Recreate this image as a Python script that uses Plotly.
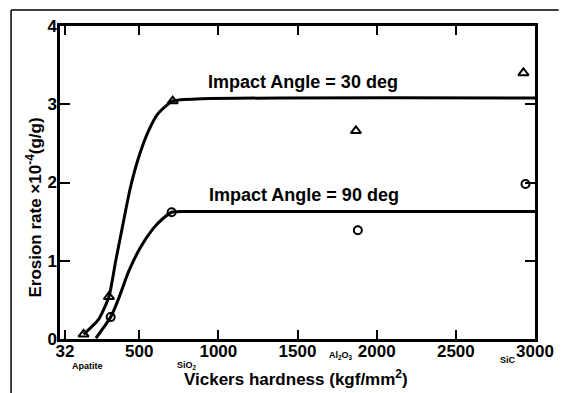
import plotly.graph_objects as go

# ---- data ----
hardness_30 = [149, 309, 712, 1869, 2927]
erosion_30 = [0.06, 0.54, 3.04, 2.66, 3.40]
hardness_90 = [320, 705, 1881, 2940]
erosion_90 = [0.28, 1.62, 1.39, 1.98]

curve30_x = [149, 240, 309, 351, 392, 443, 495, 557, 619, 712, 900, 3000]
curve30_y = [0.06, 0.24, 0.54, 0.99, 1.41, 1.92, 2.31, 2.65, 2.88, 3.04, 3.07, 3.08]
curve90_x = [227, 320, 371, 433, 505, 588, 650, 705, 800, 3000]
curve90_y = [0.01, 0.28, 0.52, 0.86, 1.16, 1.41, 1.54, 1.62, 1.63, 1.63]

x_tickvals = [32, 500, 1000, 1500, 2000, 2500, 3000]
x_ticktext = ["32", "500", "1000", "1500", "2000", "2500", "3000"]
y_tickvals = [0, 1, 2, 3, 4]

materials = ["Apatite", "SiO<sub>2</sub>", "Al<sub>2</sub>O<sub>3</sub>", "SiC"]
material_x = [173, 804, 1776, 2830]
material_ypx = [366, 366, 355, 360]   # vertical position (pixels from top) of each label

labels = ["Impact Angle = 30 deg", "Impact Angle = 90 deg"]
label_x = [1535, 1540]
label_y = [3.28, 1.84]

FONT = "Liberation Sans"
PLOT_TOP, PLOT_BOT = 26, 339

def paper_y(px):
    return (PLOT_BOT - px) / (PLOT_BOT - PLOT_TOP)

fig = go.Figure()
fig.add_trace(go.Scatter(x=curve30_x, y=curve30_y, mode="lines",
                         line=dict(color="black", width=3, shape="spline", smoothing=0.6),
                         hoverinfo="skip", showlegend=False))
fig.add_trace(go.Scatter(x=curve90_x, y=curve90_y, mode="lines",
                         line=dict(color="black", width=3, shape="spline", smoothing=0.6),
                         hoverinfo="skip", showlegend=False))
fig.add_trace(go.Scatter(x=hardness_30, y=erosion_30, mode="markers",
                         marker=dict(symbol="triangle-up-open", size=9, color="black",
                                     line=dict(width=2, color="black")),
                         showlegend=False, cliponaxis=False))
fig.add_trace(go.Scatter(x=hardness_90, y=erosion_90, mode="markers",
                         marker=dict(symbol="circle-open", size=8, color="black",
                                     line=dict(width=2, color="black")),
                         showlegend=False, cliponaxis=False))

for t, x, y in zip(labels, label_x, label_y):
    fig.add_annotation(x=x, y=y, text=t, showarrow=False, xanchor="center", yanchor="middle",
                       font=dict(family=FONT, size=18, color="black", weight="bold"))
for t, x, ypx in zip(materials, material_x, material_ypx):
    fig.add_annotation(x=x, xref="x", y=paper_y(ypx), yref="paper", text=t, showarrow=False,
                       xanchor="center", yanchor="middle",
                       font=dict(family=FONT, size=9, color="black", weight="bold"))

fig.add_annotation(xref="paper", yref="paper", x=0.497, y=paper_y(378),
                   xanchor="center", yanchor="middle",
                   text="Vickers hardness (kgf/mm<sup>2</sup>)", showarrow=False,
                   font=dict(family=FONT, size=17, color="black", weight="bold"))
fig.add_annotation(xref="paper", yref="paper", x=(33 - 60) / 485, y=paper_y(208), textangle=-90,
                   xanchor="center", yanchor="middle",
                   text="Erosion rate ×10<sup>-4</sup>(g/g)", showarrow=False,
                   font=dict(family=FONT, size=17, color="black", weight="bold"))

# page border lines of the scanned figure
fig.add_shape(type="line", xref="paper", yref="paper", x0=-0.103, x1=-0.103, y0=1.051, y1=-0.2,
              line=dict(color="black", width=1.5))
fig.add_shape(type="line", xref="paper", yref="paper", x0=-0.103, x1=1.05, y0=1.051, y1=1.051,
              line=dict(color="black", width=1.5))

fig.update_xaxes(range=[0, 3000], tickvals=x_tickvals, ticktext=x_ticktext,
                 showline=True, linecolor="black", linewidth=2.5, mirror="ticks",
                 ticks="inside", ticklen=9, tickwidth=2, tickcolor="black",
                 showgrid=False, zeroline=False, ticklabelstandoff=-5,
                 tickfont=dict(family=FONT, size=17, color="black", weight="bold"))
fig.update_yaxes(range=[0, 4], tickvals=y_tickvals,
                 showline=True, linecolor="black", linewidth=2.5, mirror="ticks",
                 ticks="inside", ticklen=10, tickwidth=2, tickcolor="black",
                 showgrid=False, zeroline=False, ticklabelstandoff=-3,
                 tickfont=dict(family=FONT, size=17, color="black", weight="bold"))

fig.update_layout(width=566, height=393, plot_bgcolor="white", paper_bgcolor="white",
                  margin=dict(l=60, r=21, t=PLOT_TOP, b=393 - PLOT_BOT), showlegend=False)

fig.write_html("out.html")
